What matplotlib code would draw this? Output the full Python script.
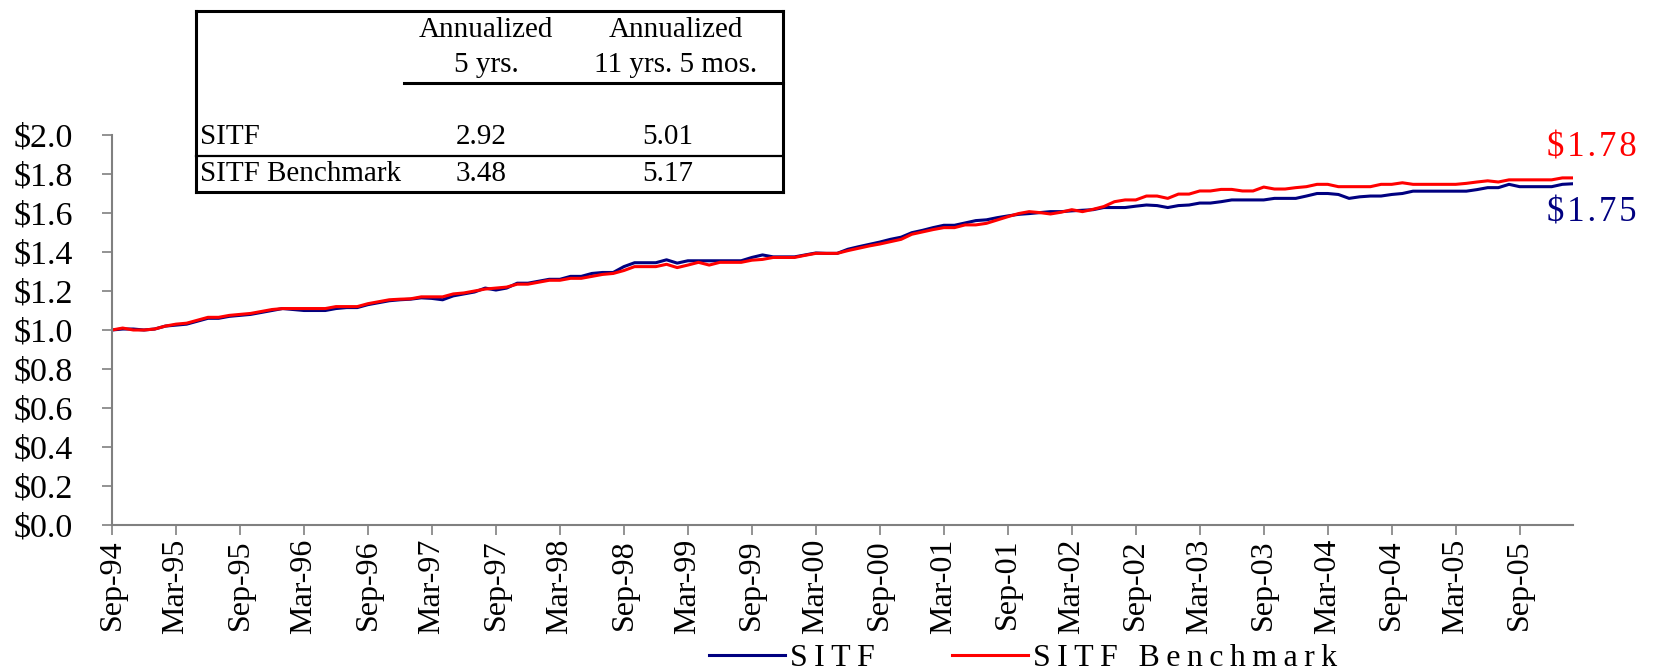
import numpy as np
import pandas as pd
import matplotlib
matplotlib.use("Agg")
import matplotlib.pyplot as plt
from matplotlib.lines import Line2D

plt.rcParams['font.family'] = ['Liberation Serif', 'DejaVu Serif']

W, H = 1656, 670

# monthly growth of $1, Sep-94 .. Feb-06
months = pd.date_range("1994-09-01", periods=138, freq="MS")

sitf = [1.000, 1.005, 1.005, 1.000, 1.005, 1.020, 1.025, 1.030, 1.045, 1.060, 1.060, 1.070,
        1.075, 1.080, 1.090, 1.100, 1.110, 1.105, 1.100, 1.100, 1.100, 1.110, 1.115, 1.115,
        1.130, 1.140, 1.150, 1.155, 1.158, 1.165, 1.162, 1.155, 1.175, 1.185, 1.195, 1.215,
        1.205, 1.215, 1.240, 1.240, 1.250, 1.260, 1.260, 1.275, 1.275, 1.290, 1.295, 1.295,
        1.325, 1.345, 1.345, 1.345, 1.360, 1.343, 1.355, 1.355, 1.355, 1.355, 1.355, 1.355,
        1.372, 1.385, 1.375, 1.375, 1.375, 1.385, 1.395, 1.393, 1.393, 1.414, 1.427, 1.439,
        1.451, 1.465, 1.476, 1.499, 1.511, 1.525, 1.537, 1.537, 1.549, 1.561, 1.565, 1.576,
        1.585, 1.593, 1.597, 1.602, 1.607, 1.607, 1.611, 1.614, 1.617, 1.628, 1.628, 1.628,
        1.635, 1.641, 1.638, 1.628, 1.638, 1.641, 1.651, 1.651, 1.658, 1.667, 1.667, 1.667,
        1.667, 1.675, 1.675, 1.675, 1.687, 1.700, 1.700, 1.695, 1.675, 1.683, 1.687, 1.687,
        1.695, 1.700, 1.712, 1.712, 1.712, 1.712, 1.712, 1.712, 1.720, 1.730, 1.730, 1.747,
        1.735, 1.735, 1.735, 1.735, 1.747, 1.750]

bench = [1.000, 1.010, 1.000, 1.000, 1.005, 1.020, 1.030, 1.035, 1.050, 1.065, 1.065, 1.075,
         1.080, 1.085, 1.095, 1.105, 1.110, 1.110, 1.110, 1.110, 1.110, 1.120, 1.120, 1.120,
         1.135, 1.145, 1.155, 1.158, 1.160, 1.170, 1.170, 1.170, 1.185, 1.190, 1.200, 1.210,
         1.215, 1.220, 1.235, 1.235, 1.245, 1.255, 1.255, 1.265, 1.265, 1.275, 1.285, 1.290,
         1.305, 1.325, 1.325, 1.325, 1.337, 1.320, 1.333, 1.347, 1.333, 1.347, 1.347, 1.347,
         1.358, 1.362, 1.372, 1.372, 1.372, 1.383, 1.393, 1.393, 1.393, 1.407, 1.419, 1.431,
         1.441, 1.453, 1.465, 1.491, 1.503, 1.515, 1.525, 1.525, 1.539, 1.539, 1.547, 1.564,
         1.581, 1.597, 1.607, 1.602, 1.595, 1.604, 1.617, 1.607, 1.619, 1.633, 1.658, 1.667,
         1.667, 1.687, 1.687, 1.675, 1.697, 1.697, 1.713, 1.713, 1.721, 1.721, 1.713, 1.713,
         1.733, 1.723, 1.723, 1.730, 1.735, 1.747, 1.747, 1.735, 1.735, 1.735, 1.735, 1.747,
         1.747, 1.755, 1.747, 1.747, 1.747, 1.747, 1.747, 1.752, 1.759, 1.765, 1.759, 1.770,
         1.770, 1.770, 1.770, 1.770, 1.780, 1.780]

tick_labels = ["Sep-94", "Mar-95", "Sep-95", "Mar-96", "Sep-96", "Mar-97", "Sep-97",
               "Mar-98", "Sep-98", "Mar-99", "Sep-99", "Mar-00", "Sep-00", "Mar-01",
               "Sep-01", "Mar-02", "Sep-02", "Mar-03", "Sep-03", "Mar-04", "Sep-04",
               "Mar-05", "Sep-05"]

# annualized returns table
col_head1 = ["Annualized", "Annualized"]
col_head2 = ["5 yrs.", "11 yrs. 5 mos."]
row_names = ["SITF", "SITF Benchmark"]
ret_5yr = [2.92, 3.48]
ret_full = [5.01, 5.17]

end_labels = ["$1.78", "$1.75"]

BLUE = "#000080"
RED = "#FF0000"
AXC = "#808080"


def fx(px):
    return px / W


def fy(py):
    return 1 - py / H


def spaced(s, sep="\u2009"):
    # loose letter spacing like the original
    return sep.join(list(s))


x = np.arange(len(months))

fig = plt.figure(figsize=(W / 100, H / 100), dpi=100)
ax = fig.add_axes([fx(112), fy(525), fx(1573) - fx(112), fy(135) - fy(525)])

ax.plot(x, sitf, color=BLUE, lw=2.2, label=spaced("SITF"))
ax.plot(x, bench, color=RED, lw=2.2, label=spaced("SITF Benchmark"))

ax.set_xlim(0, len(months) - 1)
ax.set_ylim(0, 2.0)
ax.set_yticks(np.arange(0, 2.01, 0.2))
ax.set_yticklabels(["$%.1f" % v for v in np.arange(0, 2.01, 0.2)], fontsize=24.5)
ax.set_xticks(x[::6])
ax.set_xticklabels(tick_labels, rotation=90, fontsize=23)

for s in ["top", "right"]:
    ax.spines[s].set_visible(False)
for s in ["left", "bottom"]:
    ax.spines[s].set_color(AXC)
    ax.spines[s].set_linewidth(1.5)
ax.tick_params(axis="y", direction="out", length=7, width=1.2, color=AXC, pad=21)
ax.tick_params(axis="x", direction="out", length=7, width=1.2, color=AXC, pad=3)

leg = fig.legend(loc="center", bbox_to_anchor=(fx(1023), fy(658)), ncol=2, frameon=False,
                 fontsize=23, handlelength=2.4, handletextpad=0.15, columnspacing=2.4,
                 borderpad=0, borderaxespad=0)

# end values
fig.text(fx(1547), fy(148), spaced(end_labels[0], "\u200a"), color=RED,
         fontsize=25, va="center", ha="left")
fig.text(fx(1547), fy(213), spaced(end_labels[1], "\u200a"), color=BLUE,
         fontsize=25, va="center", ha="left")

# table box
tl = 196
tr = 783
lines = [((tl, tr), (11, 11)), ((tl, tl), (11, 192)), ((tr, tr), (11, 192)),
         ((tl, tr), (192, 192)), ((404, tr), (83, 83))]
for xs, ys in lines:
    fig.add_artist(Line2D([fx(xs[0]), fx(xs[1])], [fy(ys[0]), fy(ys[1])],
                          color="black", lw=2.2, transform=fig.transFigure))
fig.add_artist(Line2D([fx(tl), fx(tr)], [fy(156), fy(156)], color="black", lw=1.6,
                      transform=fig.transFigure))

col_x = [486, 676]
for i in range(2):
    fig.text(fx(col_x[i]), fy(30), col_head1[i], fontsize=21, ha="center", va="center")
    fig.text(fx(col_x[i]), fy(65), col_head2[i], fontsize=21, ha="center", va="center")

row_y = [137, 174]
for j in range(2):
    fig.text(fx(200), fy(row_y[j]), row_names[j], fontsize=21, ha="left", va="center")
    fig.text(fx(481), fy(row_y[j]), "%.2f" % ret_5yr[j], fontsize=21, ha="center", va="center")
    fig.text(fx(668), fy(row_y[j]), "%.2f" % ret_full[j], fontsize=21, ha="center", va="center")

fig.savefig("out.png", dpi=100)
